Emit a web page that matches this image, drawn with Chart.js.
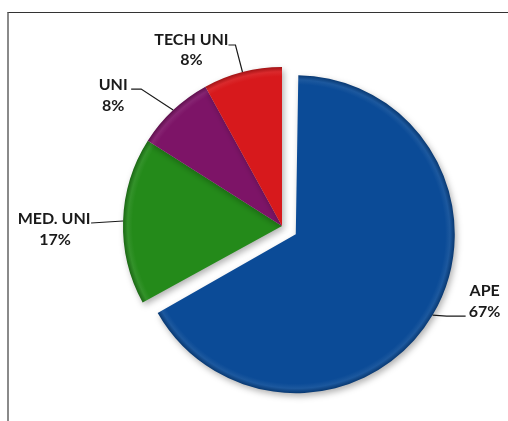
<!DOCTYPE html>
<html>
<head>
<meta charset="utf-8">
<script src="https://cdn.jsdelivr.net/npm/chart.js@4.4.1/dist/chart.umd.min.js"></script>
<style>
  html, body { margin: 0; padding: 0; background: #fff; }
  #wrap { position: relative; width: 508px; height: 421px; overflow: hidden; }
  #frame { position: absolute; left: 7px; top: 12px; right: -4px; bottom: -4px;
           border-top: 1px solid #333; border-left: 2px solid #8a8a8a; }
  #pie { position: absolute; left: 0; top: 0; }
</style>
</head>
<body>
<div id="wrap">
  <div id="frame"></div>
  <canvas id="pie" width="508" height="421"></canvas>
</div>
<script>
// data
const categories = ['APE', 'MED. UNI', 'UNI', 'TECH UNI'];
const shares = [67, 17, 8, 8];
const sliceColors = ['#0b4b97', '#248a1a', '#7d1467', '#d7191c'];
const explode = [64, 0, 0, 0]; // chart.js draws offset/4

const pieRadius = 159;

// leader lines + label placement, relative to the point on the rim
const leaders = [
  { line: [[0, 0], [14, 1], [33, 1]], name: [52, -24], pct: [52, -3] },
  { line: [[0, 0], [-32, 2]], name: [-69, -2], pct: [-68, 19] },
  { line: [[0, 0], [-32, -21], [-42, -21]], name: [-60, -25], pct: [-60, -4] },
  { line: [[0, 0], [-7, -27], [-14, -27]], name: [-51, -32], pct: [-51, -12] }
];

function shade(hex, amt) {
  const n = parseInt(hex.slice(1), 16);
  let r = n >> 16, g = (n >> 8) & 255, b = n & 255;
  const t = amt < 0 ? 0 : 255, p = Math.abs(amt);
  r = Math.round(r + (t - r) * p); g = Math.round(g + (t - g) * p); b = Math.round(b + (t - b) * p);
  return 'rgb(' + r + ',' + g + ',' + b + ')';
}

function bevelFill(context) {
  const chart = context.chart;
  const area = chart.chartArea;
  const base = sliceColors[context.dataIndex];
  if (!area) return base;
  const cx = (area.left + area.right) / 2;
  const cy = (area.top + area.bottom) / 2;
  const g = chart.ctx.createRadialGradient(cx, cy, 0, cx, cy, pieRadius);
  g.addColorStop(0, base);
  g.addColorStop(0.94, base);
  g.addColorStop(0.97, shade(base, 0.07));
  g.addColorStop(1, shade(base, -0.25));
  return g;
}

const pieDecor = {
  id: 'pieDecor',
  beforeDatasetsDraw(chart) {
    const meta = chart.getDatasetMeta(0);
    meta.data.forEach((el, i) => {
      // keep the pulled-out slice the same size as the rest
      el.outerRadius = pieRadius - explode[i] / 4;
    });
    const ctx = chart.ctx;
    ctx.save();
    ctx.shadowColor = 'rgba(0,0,0,0.3)';
    ctx.shadowBlur = 6;
    ctx.shadowOffsetX = 2;
    ctx.shadowOffsetY = 3;
  },
  afterDatasetsDraw(chart) {
    const ctx = chart.ctx;
    ctx.restore();
    const meta = chart.getDatasetMeta(0);
    ctx.save();
    ctx.font = 'bold 16px Lato, "Open Sans", sans-serif';
    ctx.textAlign = 'center';
    ctx.textBaseline = 'middle';
    ctx.strokeStyle = '#1a1a1a';
    ctx.lineWidth = 1.2;
    ctx.fillStyle = '#1a1a1a';
    meta.data.forEach((el, i) => {
      const mid = (el.startAngle + el.endAngle) / 2;
      const off = explode[i] / 4;
      const ax = el.x + Math.cos(mid) * (off + pieRadius);
      const ay = el.y + Math.sin(mid) * (off + pieRadius);
      const L = leaders[i];
      ctx.beginPath();
      L.line.forEach((p, k) => {
        if (k === 0) ctx.moveTo(ax + p[0], ay + p[1]);
        else ctx.lineTo(ax + p[0], ay + p[1]);
      });
      ctx.stroke();
      ctx.fillText(categories[i], ax + L.name[0], ay + L.name[1]);
      ctx.fillText(shares[i] + '%', ax + L.pct[0], ay + L.pct[1]);
    });
    ctx.restore();
  }
};

new Chart(document.getElementById('pie'), {
  type: 'pie',
  data: {
    labels: categories,
    datasets: [{
      data: shares,
      backgroundColor: bevelFill,
      borderWidth: 0,
      offset: explode
    }]
  },
  options: {
    responsive: false,
    animation: false,
    radius: pieRadius,
    layout: { padding: { left: 58, right: 2, top: 33, bottom: 2 } },
    plugins: {
      legend: { display: false },
      tooltip: { enabled: false }
    },
    events: []
  },
  plugins: [pieDecor]
});
</script>
</body>
</html>
